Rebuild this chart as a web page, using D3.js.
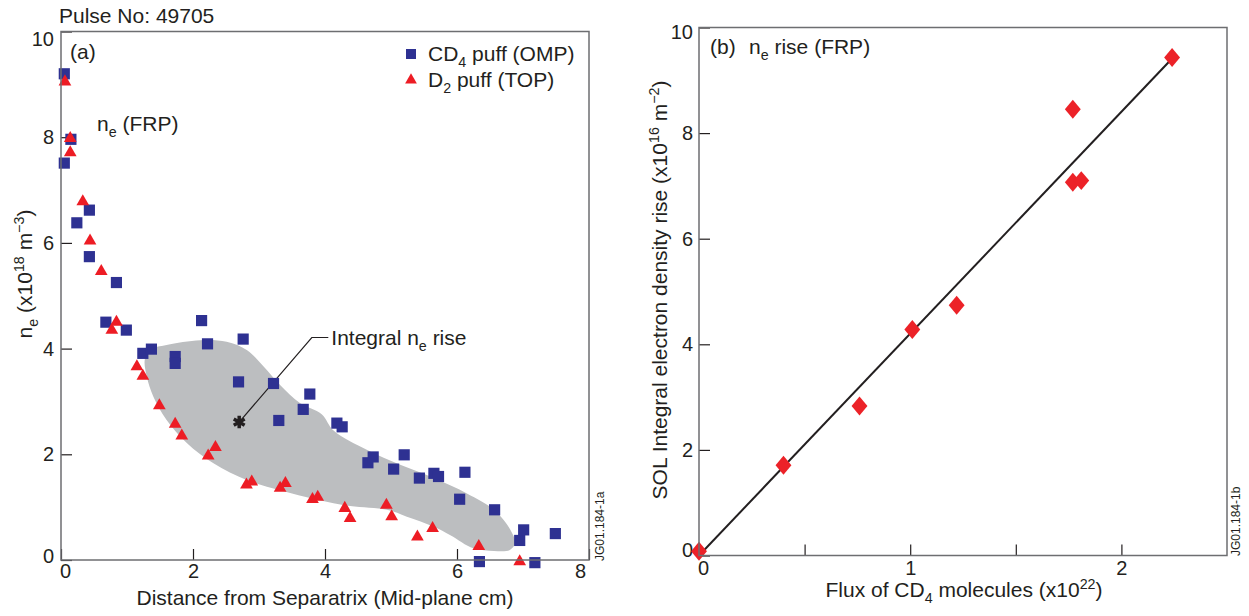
<!DOCTYPE html>
<html>
<head>
<meta charset="utf-8">
<script src="https://cdn.jsdelivr.net/npm/d3@7.9.0/dist/d3.min.js"></script>
<style>
  body { margin: 0; background: #fff; }
  svg { font-family: "Liberation Sans", Arial, Helvetica, sans-serif; }
</style>
</head>
<body>
<svg id="chart" width="1249" height="616"></svg>
<script>
// ---- data: panel (a) ----
const cd4Puff = [
  [0.05, 9.20], [0.15, 7.96], [0.05, 7.51], [0.24, 6.38], [0.43, 6.62], [0.43, 5.74],
  [0.84, 5.25], [0.68, 4.50], [0.99, 4.35], [1.24, 3.91], [1.37, 3.99], [1.73, 3.85],
  [1.73, 3.72], [2.13, 4.53], [2.22, 4.09], [2.76, 4.18], [2.69, 3.37], [3.22, 3.34],
  [3.30, 2.64], [3.67, 2.85], [3.77, 3.14], [4.18, 2.59], [4.26, 2.52], [4.65, 1.84],
  [4.73, 1.95], [5.04, 1.72], [5.20, 1.99], [5.43, 1.55], [5.65, 1.64], [5.72, 1.58],
  [6.12, 1.66], [6.04, 1.15], [6.57, 0.95], [6.95, 0.37], [7.01, 0.57], [6.34, -0.03],
  [7.18, -0.05], [7.49, 0.50]
];
const d2Puff = [
  [0.06, 9.05], [0.14, 7.98], [0.14, 7.71], [0.33, 6.78], [0.44, 6.04], [0.61, 5.46],
  [0.77, 4.35], [0.84, 4.50], [1.15, 3.66], [1.24, 3.48], [1.49, 2.92], [1.73, 2.57],
  [1.83, 2.35], [2.23, 1.97], [2.34, 2.13], [2.81, 1.42], [2.89, 1.48], [3.32, 1.36],
  [3.40, 1.45], [3.81, 1.15], [3.89, 1.19], [4.30, 0.98], [4.38, 0.79], [4.93, 1.04],
  [5.01, 0.82], [5.40, 0.44], [5.63, 0.60], [6.33, 0.26], [6.95, -0.03]
];
// outline of the shaded "integral" region
const riseRegion = [
  [1.27, 3.80], [1.35, 3.98], [1.60, 4.07], [2.11, 4.16], [2.51, 4.13], [2.82, 3.97],
  [3.07, 3.66], [3.32, 3.31], [3.62, 2.97], [3.95, 2.76], [4.13, 2.45], [4.64, 2.08],
  [5.14, 1.80], [5.65, 1.55], [6.15, 1.26], [6.56, 0.95], [6.81, 0.57], [6.88, 0.32],
  [6.80, 0.19], [6.56, 0.17], [6.25, 0.22], [5.90, 0.47], [5.65, 0.63], [5.24, 0.82],
  [4.94, 0.95], [4.38, 1.02], [3.88, 1.14], [3.32, 1.32], [2.82, 1.51], [2.31, 1.83],
  [1.91, 2.21], [1.60, 2.65], [1.40, 3.09], [1.30, 3.47]
];
const riseMarker = [2.70, 2.61];
const riseLeader = [[2.70, 2.61], [3.80, 4.21], [4.05, 4.21]];
const xTicksA = [0, 2, 4, 6, 8];
const yTicksA = [0, 2, 4, 6, 8, 10];

// ---- data: panel (b) ----
const fluxRise = [
  [0.00, 0.08], [0.40, 1.71], [0.76, 2.83], [1.01, 4.28], [1.22, 4.74],
  [1.77, 8.45], [1.77, 7.07], [1.81, 7.10], [2.24, 9.43]
];
const fitLine = [[0, 0], [2.23, 9.37]];
const xTicksB = [0, 0.5, 1, 1.5, 2];
const yTicksB = [0, 2, 4, 6, 8, 10];

const ink = "#231f20";
const frameColor = "#6d6e71";
const blue = "#2e3192";
const red = "#ed1c24";
const FS = 21;

const svg = d3.select("#chart");

// text with sub/superscript pieces
function rich(sel, parts, fs) {
  let cur = 0;
  parts.forEach(p => {
    const shift = p.sub ? fs * 0.3 : p.sup ? -fs * 0.4 : 0;
    sel.append("tspan")
      .attr("dy", shift - cur)
      .attr("font-size", (p.sub || p.sup) ? fs * 0.68 : fs)
      .text(p.t);
    cur = shift;
  });
  return sel;
}

function frame(x, y) {
  svg.append("rect")
    .attr("x", x.range()[0]).attr("y", y.range()[1])
    .attr("width", x.range()[1] - x.range()[0])
    .attr("height", y.range()[0] - y.range()[1])
    .attr("fill", "none")
    .attr("stroke", frameColor)
    .attr("stroke-width", 1.5);
}

function styleAxis(g) {
  g.select(".domain").remove();
  g.selectAll(".tick line").attr("stroke", ink).attr("stroke-width", 1.2);
  g.selectAll(".tick text").attr("fill", ink).attr("font-size", 20)
    .attr("font-family", "Liberation Sans, Arial, sans-serif");
}

// nudge corner labels off the frame corners
function nudge(g, value, dx, dy) {
  g.selectAll(".tick").filter(d => d === value).select("text")
    .attr("transform", `translate(${dx},${dy})`);
}

// ===== PANEL (a) =====
const xA = d3.scaleLinear().domain([0, 8]).range([61, 589]);
const yA = d3.scaleLinear().domain([0, 10]).range([560, 31.5]);

const gA = svg.append("g");

gA.append("path")
  .datum(riseRegion)
  .attr("fill", "#bcbec0")
  .attr("d", d3.line().x(d => xA(d[0])).y(d => yA(d[1])).curve(d3.curveCatmullRomClosed.alpha(0.5)));

const xAxisA = gA.append("g")
  .attr("transform", `translate(0,${yA(0)})`)
  .call(d3.axisBottom(xA).tickValues(xTicksA).tickSize(-11).tickSizeOuter(0).tickPadding(4))
  .call(styleAxis);
nudge(xAxisA, 0, 4, 0);
nudge(xAxisA, 8, -9, 0);

const yAxisA = gA.append("g")
  .attr("transform", `translate(${xA(0)},0)`)
  .call(d3.axisLeft(yA).tickValues(yTicksA).tickSize(-11).tickSizeOuter(0).tickPadding(7))
  .call(styleAxis);
nudge(yAxisA, 10, 0, 8);
nudge(yAxisA, 0, 0, -4);

frame(xA, yA);

// leader line and marker
gA.append("path")
  .datum(riseLeader)
  .attr("fill", "none")
  .attr("stroke", ink)
  .attr("stroke-width", 1.2)
  .attr("d", d3.line().x(d => xA(d[0])).y(d => yA(d[1])));

gA.append("path")
  .attr("transform", `translate(${xA(riseMarker[0])},${yA(riseMarker[1])})`)
  .attr("d", d3.symbol().type(d3.symbolAsterisk).size(110)())
  .attr("stroke", ink)
  .attr("stroke-width", 3.5);

rich(gA.append("text")
  .attr("x", xA(riseLeader[2][0]) + 3)
  .attr("y", yA(riseLeader[2][1]) + 7)
  .attr("fill", ink),
  [{ t: "Integral n" }, { t: "e", sub: true }, { t: " rise" }], FS);

gA.selectAll(".sq")
  .data(cd4Puff)
  .enter().append("path")
  .attr("class", "sq")
  .attr("transform", d => `translate(${xA(d[0])},${yA(d[1])})`)
  .attr("d", d3.symbol().type(d3.symbolSquare).size(125)())
  .attr("fill", blue);

gA.selectAll(".tri")
  .data(d2Puff)
  .enter().append("path")
  .attr("class", "tri")
  .attr("transform", d => `translate(${xA(d[0])},${yA(d[1])})`)
  .attr("d", d3.symbol().type(d3.symbolTriangle).size(70)())
  .attr("fill", red);

// legend
const legend = gA.append("g").attr("transform", "translate(411,54)");
legend.append("path")
  .attr("d", d3.symbol().type(d3.symbolSquare).size(100)())
  .attr("fill", blue);
rich(legend.append("text").attr("x", 17).attr("y", 7).attr("fill", ink),
  [{ t: "CD" }, { t: "4", sub: true }, { t: " puff (OMP)" }], FS);
legend.append("path")
  .attr("transform", "translate(0,26)")
  .attr("d", d3.symbol().type(d3.symbolTriangle).size(60)())
  .attr("fill", red);
rich(legend.append("text").attr("x", 17).attr("y", 33).attr("fill", ink),
  [{ t: "D" }, { t: "2", sub: true }, { t: " puff (TOP)" }], FS);

// labels
gA.append("text").attr("x", 59).attr("y", 23).attr("fill", ink).attr("font-size", FS)
  .text("Pulse No: 49705");
gA.append("text").attr("x", 70).attr("y", 59).attr("fill", ink).attr("font-size", FS)
  .text("(a)");
rich(gA.append("text").attr("x", 97).attr("y", 131).attr("fill", ink),
  [{ t: "n" }, { t: "e", sub: true }, { t: " (FRP)" }], FS);

rich(gA.append("text")
  .attr("transform", "translate(32,274) rotate(-90)")
  .attr("text-anchor", "middle")
  .attr("fill", ink),
  [{ t: "n" }, { t: "e", sub: true }, { t: " (x10" }, { t: "18", sup: true }, { t: " m" }, { t: "\u22123", sup: true }, { t: ")" }], FS);

gA.append("text")
  .attr("x", (xA.range()[0] + xA.range()[1]) / 2)
  .attr("y", 605)
  .attr("text-anchor", "middle")
  .attr("fill", ink)
  .attr("font-size", FS)
  .text("Distance from Separatrix (Mid-plane cm)");

gA.append("text")
  .attr("transform", "translate(604,561) rotate(-90)")
  .attr("fill", ink)
  .attr("font-size", 12)
  .text("JG01.184-1a");

// ===== PANEL (b) =====
const xB = d3.scaleLinear().domain([0, 2.5]).range([699, 1227]);
const yB = d3.scaleLinear().domain([0, 10]).range([555.5, 27.5]);

const gB = svg.append("g");

const xAxisB = gB.append("g")
  .attr("transform", `translate(0,${yB(0)})`)
  .call(d3.axisBottom(xB).tickValues(xTicksB).tickSize(-11).tickSizeOuter(0).tickPadding(5)
    .tickFormat(d => Number.isInteger(d) ? d : ""))
  .call(styleAxis);
nudge(xAxisB, 0, 4, 0);

const yAxisB = gB.append("g")
  .attr("transform", `translate(${xB(0)},0)`)
  .call(d3.axisLeft(yB).tickValues(yTicksB).tickSize(-11).tickSizeOuter(0).tickPadding(6))
  .call(styleAxis);
nudge(yAxisB, 10, 0, 5);
nudge(yAxisB, 0, 0, -5);

frame(xB, yB);

gB.append("path")
  .datum(fitLine)
  .attr("fill", "none")
  .attr("stroke", ink)
  .attr("stroke-width", 2)
  .attr("d", d3.line().x(d => xB(d[0])).y(d => yB(d[1])));

gB.selectAll(".dia")
  .data(fluxRise)
  .enter().append("path")
  .attr("class", "dia")
  .attr("transform", d => `translate(${xB(d[0])},${yB(d[1])}) scale(1.45,1)`)
  .attr("d", d3.symbol().type(d3.symbolDiamond).size(104)())
  .attr("fill", "#ec2228");

gB.append("text").attr("x", 710).attr("y", 54).attr("fill", ink).attr("font-size", FS)
  .text("(b)");
rich(gB.append("text").attr("x", 749).attr("y", 54).attr("fill", ink),
  [{ t: "n" }, { t: "e", sub: true }, { t: " rise (FRP)" }], FS);

rich(gB.append("text")
  .attr("transform", "translate(667,290) rotate(-90)")
  .attr("text-anchor", "middle")
  .attr("fill", ink),
  [{ t: "SOL Integral electron density rise (x10" }, { t: "16", sup: true }, { t: " m" }, { t: "\u22122", sup: true }, { t: ")" }], FS);

rich(gB.append("text")
  .attr("x", 964)
  .attr("y", 597)
  .attr("text-anchor", "middle")
  .attr("fill", ink),
  [{ t: "Flux of CD" }, { t: "4", sub: true }, { t: " molecules (x10" }, { t: "22", sup: true }, { t: ")" }], FS);

gB.append("text")
  .attr("transform", "translate(1240,556) rotate(-90)")
  .attr("fill", ink)
  .attr("font-size", 12)
  .text("JG01.184-1b");
</script>
</body>
</html>
